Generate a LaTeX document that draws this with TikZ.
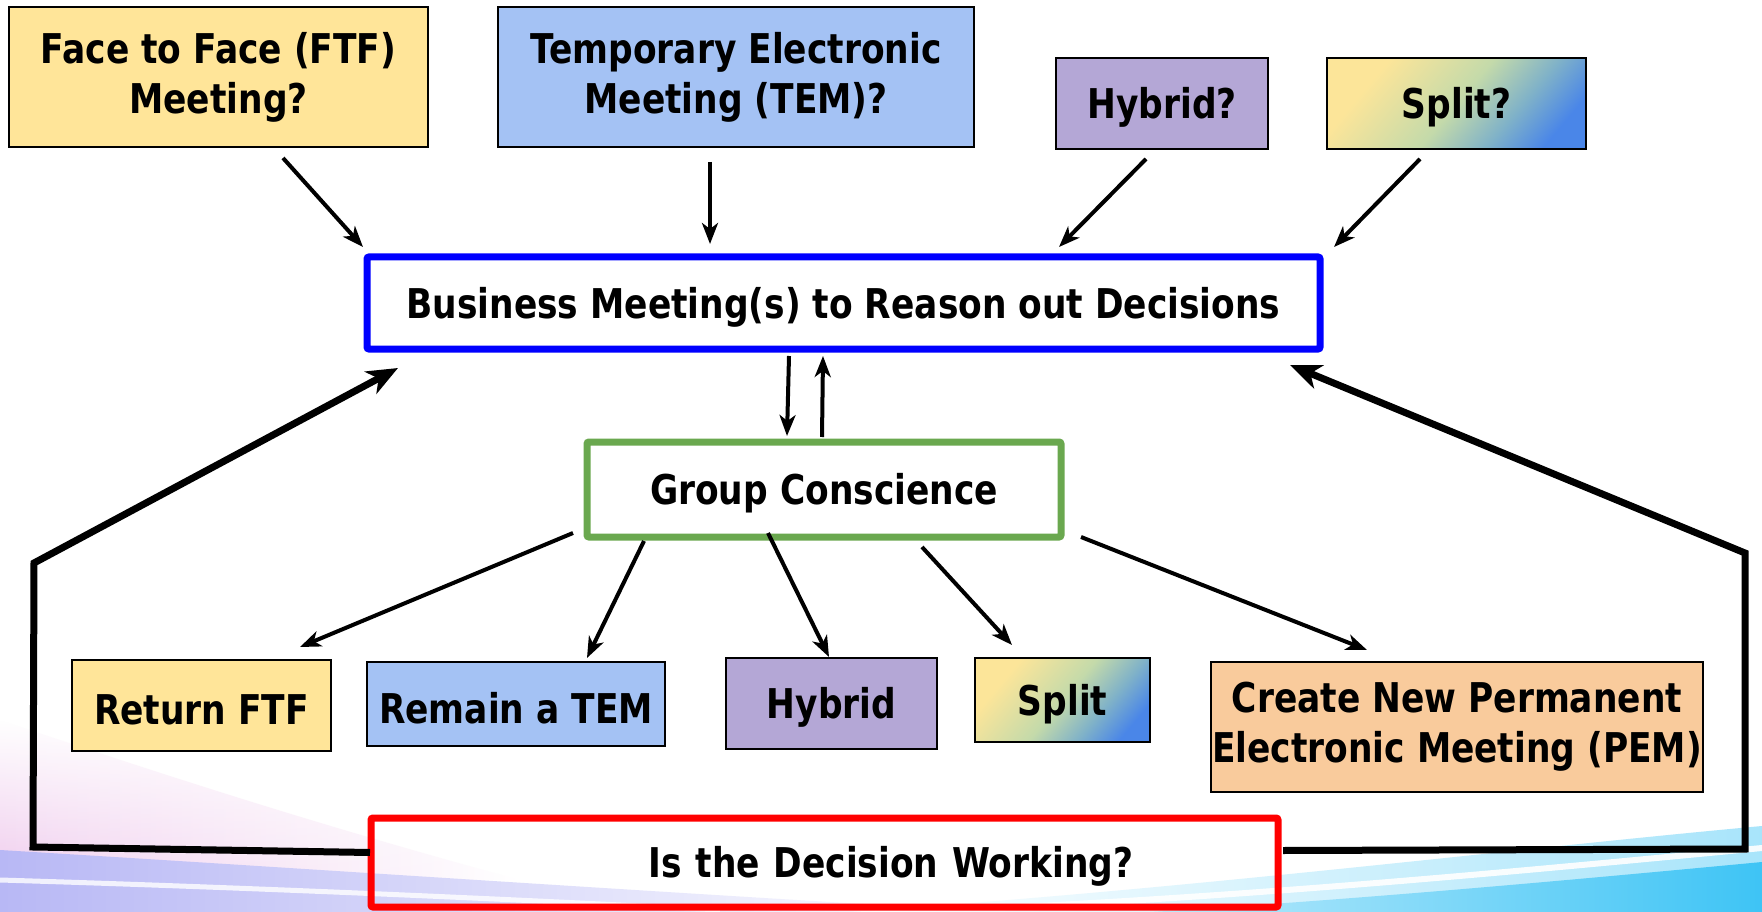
\documentclass[tikz,border=0pt]{standalone}
\usepackage{fontspec}
\setmainfont{DejaVu Sans}[FakeStretch=0.84]
\usetikzlibrary{arrows.meta,calc,fadings}
\definecolor{cyel}{RGB}{255,229,153}
\definecolor{cblu}{RGB}{164,194,244}
\definecolor{cpur}{RGB}{180,167,214}
\definecolor{corg}{RGB}{249,203,156}
\definecolor{cgrn}{RGB}{106,168,79}
\definecolor{sy}{RGB}{252,229,153}
\definecolor{sg}{RGB}{196,218,170}
\definecolor{st}{RGB}{128,178,200}
\definecolor{sb}{RGB}{74,134,232}
\definecolor{lav}{RGB}{184,184,245}
\definecolor{pinkbg}{RGB}{240,205,238}
\definecolor{cyanb}{RGB}{62,196,245}
\pgfdeclarehorizontalshading{splitshade}{100bp}{color(0bp)=(sy); color(28bp)=(sy); color(50bp)=(sg); color(64bp)=(st); color(76bp)=(sb); color(100bp)=(sb)}
\tikzfading[name=fadeup, top color=transparent!100, bottom color=transparent!0]
\begin{document}
\begin{tikzpicture}[x=1pt,y=-1pt,
  box/.style={draw=black, line width=2pt, outer sep=0pt, inner sep=0pt, align=center,
    font=\bfseries\fontsize{41}{50}\selectfont, text=black,
    execute at begin node={\rule{0pt}{39pt}}},
  keybox/.style={box, line width=7pt, rounded corners=2pt},
  splitbox/.style={box, shading=splitshade, shading angle=-40},
  arr/.style={line width=4pt, -{Stealth[length=21pt,width=16pt,inset=6pt]}},
  loopline/.style={line width=7pt, -{Stealth[length=31pt,width=25pt,inset=9pt]}}]
\useasboundingbox (0,0) rectangle (1762,912);
\fill[white] (0,0) rectangle (1762,912);
% background swoosh, left
\shade[left color=pinkbg, right color=white, path fading=fadeup]
  (0,720) .. controls (150,770) and (300,820) .. (520,880) -- (0,880) -- cycle;
\shade[left color=lav, right color=white]
  (0,850) .. controls (300,868) and (650,892) .. (1000,912) -- (0,912) -- cycle;
\draw[white, line width=5pt, opacity=0.8]
  (0,880) .. controls (200,886) and (450,896) .. (720,910);
% background swoosh, right
\shade[left color=white, right color=cyanb!45]
  (850,912) .. controls (1200,888) and (1500,850) .. (1762,826) -- (1762,912) -- cycle;
\draw[white, line width=6pt, opacity=0.9]
  (1000,908) .. controls (1300,893) and (1550,868) .. (1762,848);
\shade[left color=cyanb!35, right color=cyanb]
  (1150,912) .. controls (1350,900) and (1550,882) .. (1762,862) -- (1762,912) -- cycle;

% top row
\node[box, fill=cyel, minimum width=419pt, minimum height=140pt] (ftf) at (218.5,77) {Face to Face (FTF)\\Meeting?};
\node[box, fill=cblu, minimum width=476pt, minimum height=140pt] (tem) at (736,77) {Temporary Electronic\\Meeting (TEM)?};
\node[box, fill=cpur, minimum width=212pt, minimum height=91pt] (hyq) at (1162,103.5) {Hybrid?};
\node[splitbox, minimum width=259pt, minimum height=91pt] (spq) at (1456.5,103.5) {Split?};

% central
\node[keybox, draw=blue, fill=white, minimum width=953pt, minimum height=92pt] (bm) at (843.5,303) {Business Meeting(s) to Reason out Decisions};
\node[keybox, draw=cgrn, fill=white, minimum width=474pt, minimum height=95pt] (gc) at (824,489.5) {Group Conscience};

% bottom row
\node[box, fill=cyel, minimum width=259pt, minimum height=91pt] (rf) at (201.5,705.5) {Return FTF};
\node[box, fill=cblu, minimum width=298pt, minimum height=84pt] (rt) at (516,704) {Remain a TEM};
\node[box, fill=cpur, minimum width=211pt, minimum height=91pt] (hy) at (831.5,703.5) {Hybrid};
\node[splitbox, minimum width=175pt, minimum height=84pt] (sp) at (1062.5,700) {Split};
\node[box, fill=corg, minimum width=492pt, minimum height=130pt] (pem) at (1457,727) {Create New Permanent\\Electronic Meeting (PEM)};

\node[keybox, draw=red, text width=907pt, minimum height=89pt] (dw) at (824.5,862.5) {\hspace*{133pt}Is the Decision Working?};

% arrows into business meeting
\draw[arr] ($(ftf.south)+(64.5,11)$) -- ($(bm.north)+(-480.5,-10)$);
\draw[arr] ($(tem.south)+(-26,15)$) -- ($(bm.north)+(-133.5,-13)$);
\draw[arr] ($(hyq.south)+(-16,10)$) -- ($(bm.north)+(215.5,-10)$);
\draw[arr] ($(spq.south)+(-36.5,10)$) -- ($(bm.north)+(490.5,-10)$);

% business <-> group conscience
\draw[arr] ($(bm.south)+(-54.5,7)$) -- ($(gc.north)+(-37,-6)$);
\draw[arr] ($(gc.north)+(-2,-5)$) -- ($(bm.south)+(-20.5,7)$);

% group conscience outcomes
\draw[arr] ($(gc.south)+(-251,-4)$) -- ($(rf.north)+(98.5,-13)$);
\draw[arr] ($(gc.south)+(-180,4)$) -- ($(rt.north)+(71,-4)$);
\draw[arr] ($(gc.south)+(-56,-4)$) -- ($(hy.north)+(-2.5,-1)$);
\draw[arr] ($(gc.south)+(98,10)$) -- ($(sp.north)+(-50.5,-13)$);
\draw[arr] ($(gc.south)+(257,0)$) -- ($(pem.north)+(-90,-12)$);

% feedback loops
\coordinate (l1) at (33,847);
\coordinate (l2) at (34,563);
\coordinate (r1) at (1745,849);
\coordinate (r2) at (1745,553);
\draw[loopline] ($(dw.west)+(-1,-10)$) -- (l1) -- (l2) -- ($(bm.south west)+(31,19)$);
\draw[loopline] ($(dw.east)+(5,-12)$) -- (r1) -- (r2) -- ($(bm.south east)+(-30,16)$);
\end{tikzpicture}
\end{document}
